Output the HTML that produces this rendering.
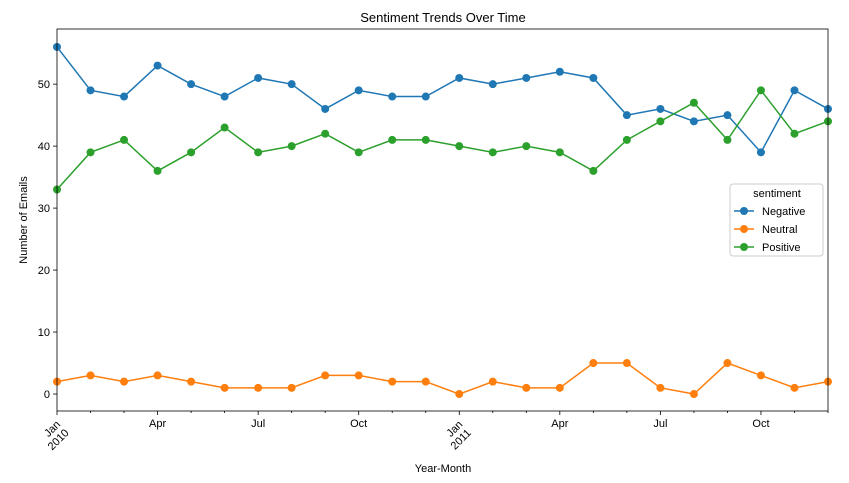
<!DOCTYPE html>
<html><head><meta charset="utf-8"><style>
body{margin:0;background:#fff;}
svg{font-family:"Liberation Sans","DejaVu Sans",sans-serif;}
</style></head><body>
<svg id="chart" width="849" height="478" viewBox="0 0 849 478" xmlns="http://www.w3.org/2000/svg">
<rect width="849" height="478" fill="#fff"/>
<text x="443" y="22" font-size="13" text-anchor="middle">Sentiment Trends Over Time</text>
<text x="443" y="472" font-size="11" text-anchor="middle">Year-Month</text>
<text transform="translate(27,220) rotate(-90)" font-size="11" text-anchor="middle">Number of Emails</text>
<g id="axes"></g>
<g id="series"></g>
<rect x="57" y="29" width="771" height="382" fill="none" stroke="#000" stroke-width="0.8"/>
<g id="legend"></g>
</svg>
<script>
const months = ["2010-01","2010-02","2010-03","2010-04","2010-05","2010-06","2010-07","2010-08","2010-09","2010-10","2010-11","2010-12","2011-01","2011-02","2011-03","2011-04","2011-05","2011-06","2011-07","2011-08","2011-09","2011-10","2011-11","2011-12"];
const negative = [56,49,48,53,50,48,51,50,46,49,48,48,51,50,51,52,51,45,46,44,45,39,49,46];
const neutral = [2,3,2,3,2,1,1,1,3,3,2,2,0,2,1,1,5,5,1,0,5,3,1,2];
const positive = [33,39,41,36,39,43,39,40,42,39,41,41,40,39,40,39,36,41,44,47,41,49,42,44];
const yTicks = [0,10,20,30,40,50];
const seriesNames = ["Negative","Neutral","Positive"];
const colors = ["#1f77b4","#ff7f0e","#2ca02c"];

const NS = "http://www.w3.org/2000/svg";
const L=57,R=828,T=29,B=411,yMin=-2.74,yMax=58.9;
const x = i => L + i*(R-L)/(months.length-1);
const y = v => B - (v-yMin)/(yMax-yMin)*(B-T);
function mk(tag, attrs, parent){const e=document.createElementNS(NS,tag);for(const k in attrs)e.setAttribute(k,attrs[k]);parent.appendChild(e);return e;}
const axes=document.getElementById('axes');
yTicks.forEach(t=>{
  const l=mk('line',{x1:L-4,x2:L,y1:y(t),y2:y(t),stroke:'#000','stroke-width':0.8},axes);
  
  
  const tx=mk('text',{x:L-7,y:y(t)+4,'font-size':11,'text-anchor':'end'},axes);
  tx.textContent=t;
  
  
});
const mnames={"01":"Jan","04":"Apr","07":"Jul","10":"Oct"};
months.forEach((m,i)=>{
  const [yr,mo]=m.split('-');
  const major=!!mnames[mo];
  const l=mk('line',{x1:x(i),x2:x(i),y1:B,y2:B+(major?4:2),stroke:'#000','stroke-width':0.8},axes);
  
  
  if(mo==="01"){
    const tx=mk('text',{transform:`translate(${x(i)+4},${B+14}) rotate(-45)`,'font-size':11,'text-anchor':'end'},axes);
    const a=mk('tspan',{x:0,dy:0},tx);a.textContent='Jan';
    const b=mk('tspan',{x:0,dy:12},tx);b.textContent=yr;
    
    
  } else if(major){
    const tx=mk('text',{x:x(i),y:B+16,'font-size':11,'text-anchor':'middle'},axes);
    tx.textContent=mnames[mo];
    
    
  }
});
const ser=document.getElementById('series');
[negative,neutral,positive].forEach((data,si)=>{
  const g=mk('g',{},ser);
  
  
  const p=mk('polyline',{points:data.map((v,i)=>x(i)+','+y(v)).join(' '),fill:'none',stroke:colors[si],'stroke-width':1.5},g);
  
  
  data.forEach((v,i)=>{
    const c=mk('circle',{cx:x(i),cy:y(v),r:4,fill:colors[si]},g);
    
    
  });
});
const lg=document.getElementById('legend');


mk('rect',{x:730,y:184,width:93,height:72,rx:3,fill:'#fff','fill-opacity':0.8,stroke:'#ccc'},lg);
const lt=mk('text',{x:777,y:197,'font-size':11,'text-anchor':'middle'},lg);lt.textContent='sentiment';
seriesNames.forEach((n,i)=>{
  const yy=211+i*18;
  const e=mk('g',{},lg);
  
  
  mk('line',{x1:734,x2:754,y1:yy,y2:yy,stroke:colors[i],'stroke-width':1.5},e);
  mk('circle',{cx:744,cy:yy,r:4,fill:colors[i]},e);
  const t=mk('text',{x:762,y:yy+4,'font-size':11},e);t.textContent=n;
});
</script>
</body></html>
